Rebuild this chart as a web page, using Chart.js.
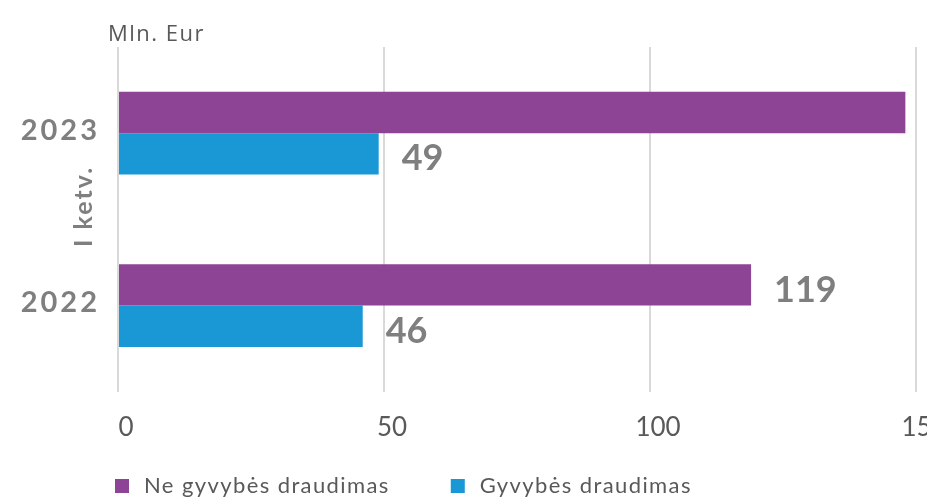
<!DOCTYPE html>
<html>
<head>
<meta charset="utf-8">
<script src="https://cdn.jsdelivr.net/npm/chart.js"></script>
<style>
  body { margin: 0; background: #fff; }
  #wrap { width: 927px; height: 497px; position: relative; overflow: hidden; }
</style>
</head>
<body>
<div id="wrap"><canvas id="myChart"></canvas></div>
<script>
// duomenys
const metai = ["2023", "2022"];
const neGyvybes = [148, 119];
const gyvybes = [49, 46];
const xTicks = [0, 50, 100, 150];
const serijos = ["Ne gyvybės draudimas", "Gyvybės draudimas"];
const vienetai = "Mln. Eur";
const laikotarpis = "I ketv.";

const pilka = "#7f7f7f";
const tamsi = "#595959";

// uzrasai, reiksmes ir legenda
const tekstai = {
  id: "tekstai",
  afterDatasetsDraw(chart) {
    const ctx = chart.ctx;
    ctx.save();
    ctx.font = "bold 36px Lato";
    ctx.fillStyle = pilka;
    ctx.textAlign = "left";
    ctx.textBaseline = "middle";
    chart.data.datasets.forEach((ds, di) => {
      chart.getDatasetMeta(di).data.forEach((bar, i) => {
        ctx.fillText(ds.data[i], bar.x + 23, bar.y + 5);
      });
    });
    ctx.restore();
  },
  afterDraw(chart) {
    const ctx = chart.ctx;
    const area = chart.chartArea;
    const y = chart.scales.y;
    ctx.save();

    // vienetai virsuje
    ctx.font = "22px 'Open Sans'";
    ctx.letterSpacing = "1.5px";
    ctx.fillStyle = tamsi;
    ctx.textAlign = "left";
    ctx.textBaseline = "alphabetic";
    ctx.fillText(vienetai, 108, 41);

    // metu zymes
    ctx.font = "bold 29px Lato";
    ctx.letterSpacing = "3px";
    ctx.fillStyle = pilka;
    ctx.textAlign = "right";
    ctx.textBaseline = "middle";
    metai.forEach((m, i) => {
      ctx.fillText(m, area.left - 18, y.getPixelForTick(i) - 3);
    });

    // pasuktas laikotarpis
    ctx.save();
    ctx.translate(92, (y.getPixelForTick(0) + y.getPixelForTick(1)) / 2 - 13);
    ctx.rotate(-Math.PI / 2);
    ctx.font = "bold 25px Lato";
    ctx.letterSpacing = "2px";
    ctx.textAlign = "center";
    ctx.textBaseline = "alphabetic";
    ctx.fillText(laikotarpis, 0, 0);
    ctx.restore();

    // legenda
    ctx.font = "22px Lato";
    ctx.letterSpacing = "1.4px";
    ctx.textAlign = "left";
    ctx.textBaseline = "middle";
    let x = 115;
    const ly = chart.height - 11;
    chart.data.datasets.forEach((ds) => {
      ctx.fillStyle = ds.backgroundColor;
      ctx.fillRect(x, ly - 7, 14, 14);
      ctx.fillStyle = tamsi;
      ctx.fillText(ds.label, x + 29, ly);
      x += 29 + ctx.measureText(ds.label).width + 61;
    });
    ctx.restore();
  }
};

new Chart(document.getElementById("myChart"), {
  type: "bar",
  data: {
    labels: metai,
    datasets: [
      { label: serijos[0], data: neGyvybes, backgroundColor: "#8e4494" },
      { label: serijos[1], data: gyvybes, backgroundColor: "#1a98d5" }
    ]
  },
  options: {
    indexAxis: "y",
    responsive: true,
    maintainAspectRatio: false,
    animation: false,
    categoryPercentage: 0.48,
    barPercentage: 1,
    layout: { padding: { top: 47, right: 11, bottom: 34, left: 0 } },
    plugins: {
      legend: { display: false },
      tooltip: { enabled: false }
    },
    scales: {
      x: {
        min: 0,
        max: 150,
        afterBuildTicks: (scale) => {
          scale.ticks = xTicks.map((v) => ({ value: v }));
        },
        afterFit: (scale) => {
          scale.paddingLeft = 0;
          scale.paddingRight = 0;
        },
        grid: { color: "#d9d9d9", lineWidth: 2, drawTicks: false },
        border: { display: false },
        ticks: {
          color: tamsi,
          font: { family: "Lato", size: 26 },
          padding: 20,
          labelOffset: 8
        }
      },
      y: {
        afterFit: (scale) => {
          scale.width = 118;
        },
        grid: { display: false },
        border: { display: false },
        ticks: { display: false }
      }
    }
  },
  plugins: [tekstai]
});
</script>
</body>
</html>
